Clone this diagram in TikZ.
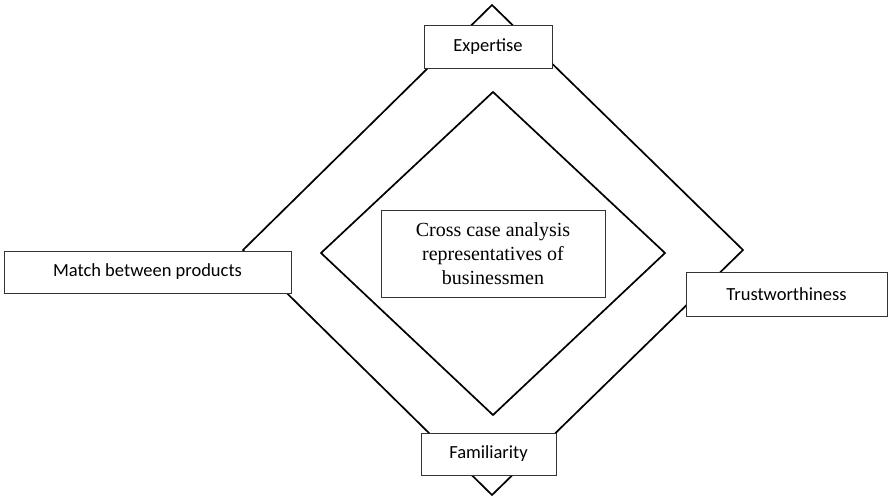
\documentclass[tikz,border=0pt]{standalone}
\usepackage{fontspec}
\setmainfont{Carlito}
\newfontfamily\casefont{Liberation Serif}
\usetikzlibrary{positioning}
\tikzstyle{factor}=[draw=black!80, fill=white, line width=0.8pt, inner sep=0pt, font=\fontsize{18.5}{22}\selectfont]
\tikzstyle{frame}=[line width=1.7pt, line join=miter]

\begin{document}
\begin{tikzpicture}[x=1pt, y=-1pt]
		\useasboundingbox (0,0) rectangle (888,498);

		% outer diamond
		\coordinate (T) at (492,5);
		\coordinate (R) at (743,250);
		\coordinate (B) at (492,495);
		\coordinate (L) at (243,250);
		\draw[frame] (T) -- (R) -- (B) -- (L) -- cycle;

		% inner diamond
		\coordinate (t) at (493,92);
		\coordinate (r) at (665,253);
		\coordinate (b) at (493,415);
		\coordinate (l) at (321,253);
		\draw[frame] (t) -- (r) -- (b) -- (l) -- cycle;

		\node[factor, minimum width=128pt, minimum height=43pt] (expertise) at (488,46.5) {Expertise};
		\node[factor, minimum width=287pt, minimum height=42pt] (match) at (147.5,272) {Match between products};
		\node[factor, minimum width=201pt, minimum height=44pt] (trust) at (786.5,294) {Trustworthiness};
		\node[factor, minimum width=135pt, minimum height=42pt] (familiar) at (488.5,454) {Familiarity};

		\node[factor, minimum width=224pt, minimum height=87pt, align=center,
			font=\casefont\fontsize{20}{24}\selectfont] (case) at (493,253.5)
			{Cross case analysis\\representatives of\\businessmen};
	\end{tikzpicture}
\end{document}
